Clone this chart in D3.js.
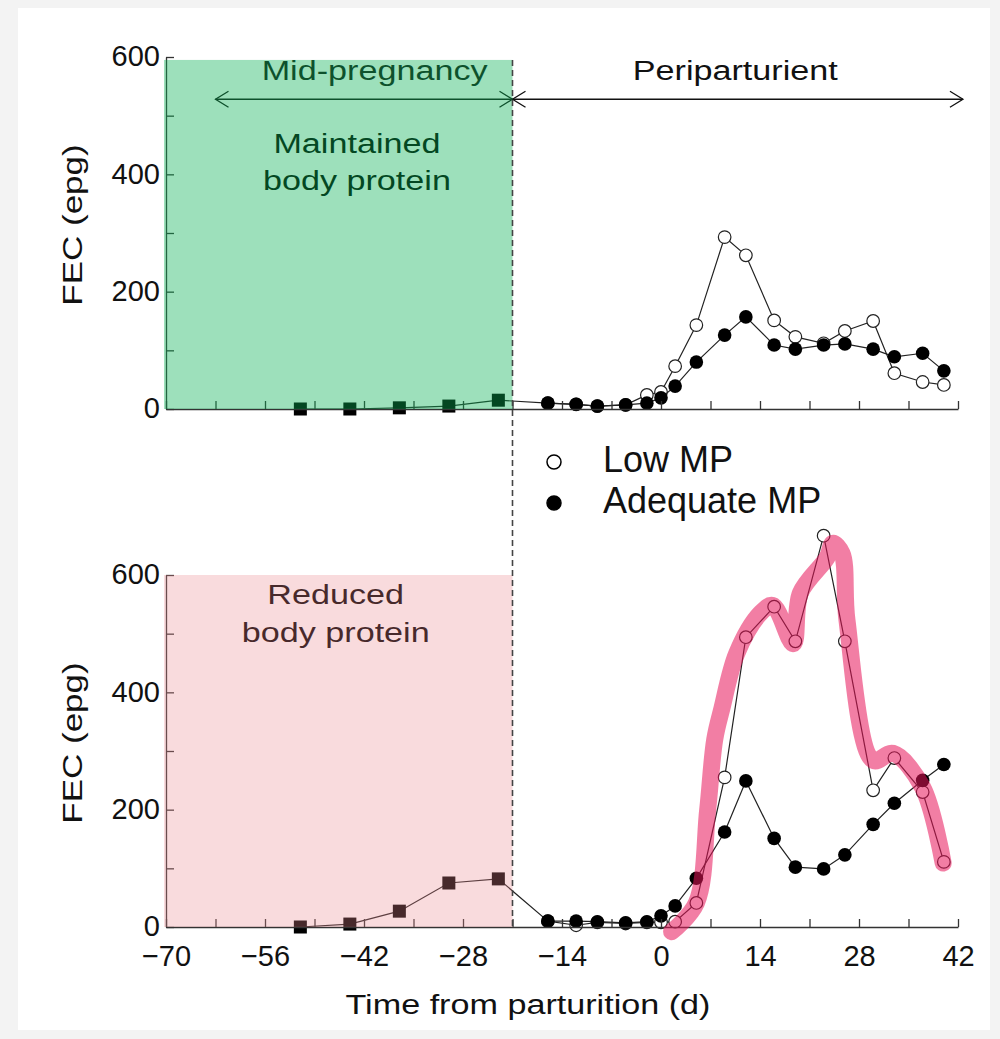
<!DOCTYPE html>
<html>
<head>
<meta charset="utf-8">
<script src="https://cdn.jsdelivr.net/npm/d3@7"></script>
<style>
  body { margin: 0; background: #fff; }
  text { font-family: "Liberation Sans", Arial, sans-serif; }
</style>
</head>
<body>
<div id="chart"></div>
<script>

var width = 1000;
var height = 1039;

// sampling days (d from parturition)
var preDays = [-51, -44, -37, -30, -23];
var preTop = [0, 0, 2, 5, 15];
var preBottom = [0, 5, 27, 75, 82];

var days = [-16, -12, -9, -5, -2, 0, 2, 5, 9, 12, 16, 19, 23, 26, 30, 33, 37, 40];
var topLowMP = [10, 8, 5, 7, 24, 29, 73, 143, 293, 262, 151, 123, 112, 133, 150, 61, 46, 41];
var topAdequateMP = [10, 8, 5, 7, 10, 19, 39, 80, 126, 157, 109, 102, 109, 111, 102, 89, 95, 65];
var bottomLowMP = [10, 3, 8, 6, 8, 8, 9, 41, 255, 494, 546, 487, 667, 487, 233, 288, 230, 111];
var bottomAdequateMP = [10, 10, 9, 7, 9, 19, 36, 83, 162, 249, 151, 102, 99, 123, 175, 211, 250, 277];

// hand drawn marker over the low MP line (bottom panel)
var highlightDays = [1.5, 5, 6.6, 7.6, 8.6, 10.7, 14, 15.8, 18.7, 19.7, 23.5, 24.3, 25.6, 26.3, 30, 32.8, 37, 39.9];
var highlightValues = [-8, 41, 200, 320, 372, 466, 534, 548, 483, 569, 630, 654, 637, 523, 284, 296, 238, 109];

var xTicks = d3.range(-70, 43, 7);
var xLabels = [-70, -56, -42, -28, -14, 0, 14, 28, 42];
var yTicks = [0, 100, 200, 300, 400, 500, 600];
var yLabels = [0, 200, 400, 600];

var legendLabels = ['Low MP', 'Adequate MP'];

var svg = d3.select('#chart')
    .append('svg')
    .attr('width', width)
    .attr('height', height);

svg.append('rect').attr('width', width).attr('height', height).attr('fill', '#f3f3f3');
svg.append('rect').attr('x', 18).attr('y', 8).attr('width', 972).attr('height', 1022).attr('fill', '#fff');

var x = d3.scaleLinear().domain([-70, 42]).range([166, 958]);
var yTop = d3.scaleLinear().domain([0, 600]).range([409, 57]);
var yBot = d3.scaleLinear().domain([0, 600]).range([927, 575]);

// the figure's lettering is a wide sans, so stretch it a bit
function wideText(px, py, str, size, fill, stretch) {
  return svg.append('text')
      .attr('transform', 'translate(' + px + ',' + py + ') scale(' + stretch + ',1)')
      .attr('text-anchor', 'middle')
      .attr('font-size', size)
      .attr('fill', fill)
      .text(str);
}

var panels = [
  {y: yTop, pre: preTop, low: topLowMP, adq: topAdequateMP, labels: false, titleY: 225},
  {y: yBot, pre: preBottom, low: bottomLowMP, adq: bottomAdequateMP, labels: true, titleY: 743}
];

panels.forEach(function(p) {
  var g = svg.append('g');
  var y = p.y;

  var line = d3.line()
      .x(function(d) { return x(d[0]); })
      .y(function(d) { return y(d[1]); });

  var preData = preDays.map(function(d, i) { return [d, p.pre[i]]; });
  var lowData = days.map(function(d, i) { return [d, p.low[i]]; });
  var adqData = days.map(function(d, i) { return [d, p.adq[i]]; });

  // squares + link to first circle
  g.append('path')
      .datum(preData.concat([lowData[0]]))
      .attr('fill', 'none')
      .attr('stroke', '#222')
      .attr('stroke-width', 1.2)
      .attr('d', line);

  g.append('path')
      .datum(lowData)
      .attr('fill', 'none')
      .attr('stroke', '#222')
      .attr('stroke-width', 1.2)
      .attr('d', line);

  g.selectAll('.open')
      .data(lowData)
      .enter()
      .append('circle')
      .attr('cx', function(d) { return x(d[0]); })
      .attr('cy', function(d) { return y(d[1]); })
      .attr('r', 6.3)
      .attr('fill', '#fff')
      .attr('stroke', '#222')
      .attr('stroke-width', 1.2);

  g.append('path')
      .datum(adqData)
      .attr('fill', 'none')
      .attr('stroke', '#222')
      .attr('stroke-width', 1.2)
      .attr('d', line);

  g.selectAll('.filled')
      .data(adqData)
      .enter()
      .append('circle')
      .attr('cx', function(d) { return x(d[0]); })
      .attr('cy', function(d) { return y(d[1]); })
      .attr('r', 6.8)
      .attr('fill', '#000');

  g.selectAll('.sq')
      .data(preData)
      .enter()
      .append('rect')
      .attr('x', function(d) { return x(d[0]) - 6.5; })
      .attr('y', function(d) { return y(d[1]) - 6.5; })
      .attr('width', 13)
      .attr('height', 13)
      .attr('fill', '#000');

  // axes
  var yAxis = d3.axisLeft(y)
      .tickValues(yTicks)
      .tickSizeInner(-8)
      .tickSizeOuter(0)
      .tickPadding(6)
      .tickFormat(function(d) { return yLabels.indexOf(d) >= 0 ? d : ''; });

  var yg = g.append('g')
      .attr('transform', 'translate(' + x(-70) + ',0)')
      .call(yAxis);

  var xAxis = d3.axisBottom(x)
      .tickValues(xTicks)
      .tickSizeInner(-8)
      .tickSizeOuter(0)
      .tickPadding(18)
      .tickFormat(function(d) { return (p.labels && xLabels.indexOf(d) >= 0) ? d3.format('')(d) : ''; });

  var xg = g.append('g')
      .attr('transform', 'translate(0,' + y(0) + ')')
      .call(xAxis);

  [yg, xg].forEach(function(a) {
    a.selectAll('path, line').attr('stroke', '#333').attr('stroke-width', 1.3);
    a.selectAll('text').attr('fill', '#111').attr('font-size', 29).attr('font-family', '"Liberation Sans", Arial, sans-serif');
  });
  yg.selectAll('text').attr('dy', '0.3em');

  g.append('text')
      .attr('transform', 'translate(82,' + p.titleY + ') rotate(-90) scale(1.25,1)')
      .attr('text-anchor', 'middle')
      .attr('font-size', 28)
      .attr('fill', '#111')
      .text('FEC (epg)');
});

// phase arrows
var phases = [
  {label: 'Mid-pregnancy', from: -63, to: -21, labelDay: -40.5},
  {label: 'Periparturient', from: -21, to: 42.7, labelDay: 10.5}
];
var arrowY = yTop(528);

phases.forEach(function(ph) {
  var x0 = x(ph.from), x1 = x(ph.to);
  svg.append('line')
      .attr('x1', x0).attr('x2', x1)
      .attr('y1', arrowY).attr('y2', arrowY)
      .attr('stroke', '#111').attr('stroke-width', 1.3);
  svg.append('path')
      .attr('d', 'M' + (x0 + 13) + ',' + (arrowY - 8) + 'L' + x0 + ',' + arrowY + 'L' + (x0 + 13) + ',' + (arrowY + 8))
      .attr('fill', 'none').attr('stroke', '#111').attr('stroke-width', 1.3);
  svg.append('path')
      .attr('d', 'M' + (x1 - 13) + ',' + (arrowY - 8) + 'L' + x1 + ',' + arrowY + 'L' + (x1 - 13) + ',' + (arrowY + 8))
      .attr('fill', 'none').attr('stroke', '#111').attr('stroke-width', 1.3);
  wideText(x(ph.labelDay), yTop(560), ph.label, 28, '#111', 1.22);
});

// region notes
var notes = [
  {lines: ['Maintained', 'body protein'], day: -43, y: yTop, v: [436, 373]},
  {lines: ['Reduced', 'body protein'], day: -46, y: yBot, v: [551, 485]}
];
notes.forEach(function(n) {
  n.lines.forEach(function(t, i) {
    wideText(x(n.day), n.y(n.v[i]), t, 28, '#000', 1.22);
  });
});

// shaded regions laid over the drawing
svg.append('rect')
    .attr('x', x(-70) - 2)
    .attr('y', yTop(595))
    .attr('width', x(-21) - x(-70) + 2)
    .attr('height', yTop(0) - yTop(595))
    .attr('fill', 'rgb(10,178,85)')
    .attr('fill-opacity', 0.4);

svg.append('rect')
    .attr('x', x(-70) - 2)
    .attr('y', yBot(600))
    .attr('width', x(-21) - x(-70) + 2)
    .attr('height', yBot(0) - yBot(600))
    .attr('fill', 'rgb(235,135,142)')
    .attr('fill-opacity', 0.3);

// parturition boundary
svg.append('line')
    .attr('x1', x(-21)).attr('x2', x(-21))
    .attr('y1', yTop(595)).attr('y2', yBot(0))
    .attr('stroke', '#444')
    .attr('stroke-width', 1.6)
    .attr('stroke-dasharray', '6,4');

// highlighter stroke
svg.append('path')
    .datum(highlightDays.map(function(d, i) { return [d, highlightValues[i]]; }))
    .attr('fill', 'none')
    .attr('stroke', 'rgb(232,20,90)')
    .attr('stroke-opacity', 0.55)
    .attr('stroke-width', 17)
    .attr('stroke-linecap', 'round')
    .attr('stroke-linejoin', 'round')
    .attr('d', d3.line()
        .curve(d3.curveCatmullRom)
        .x(function(d) { return x(d[0]); })
        .y(function(d) { return yBot(d[1]); }));

// legend
var legend = svg.append('g').attr('transform', 'translate(554,462)');
legendLabels.forEach(function(l, i) {
  var row = legend.append('g').attr('transform', 'translate(0,' + (i * 41) + ')');
  row.append('circle')
      .attr('r', 7)
      .attr('fill', i === 0 ? '#fff' : '#000')
      .attr('stroke', '#000')
      .attr('stroke-width', 1.5);
  row.append('text')
      .attr('x', 49)
      .attr('y', 10)
      .attr('font-size', 36)
      .attr('fill', '#111')
      .text(l);
});

wideText(528, 1014, 'Time from parturition (d)', 28, '#111', 1.22);

</script>
</body>
</html>
